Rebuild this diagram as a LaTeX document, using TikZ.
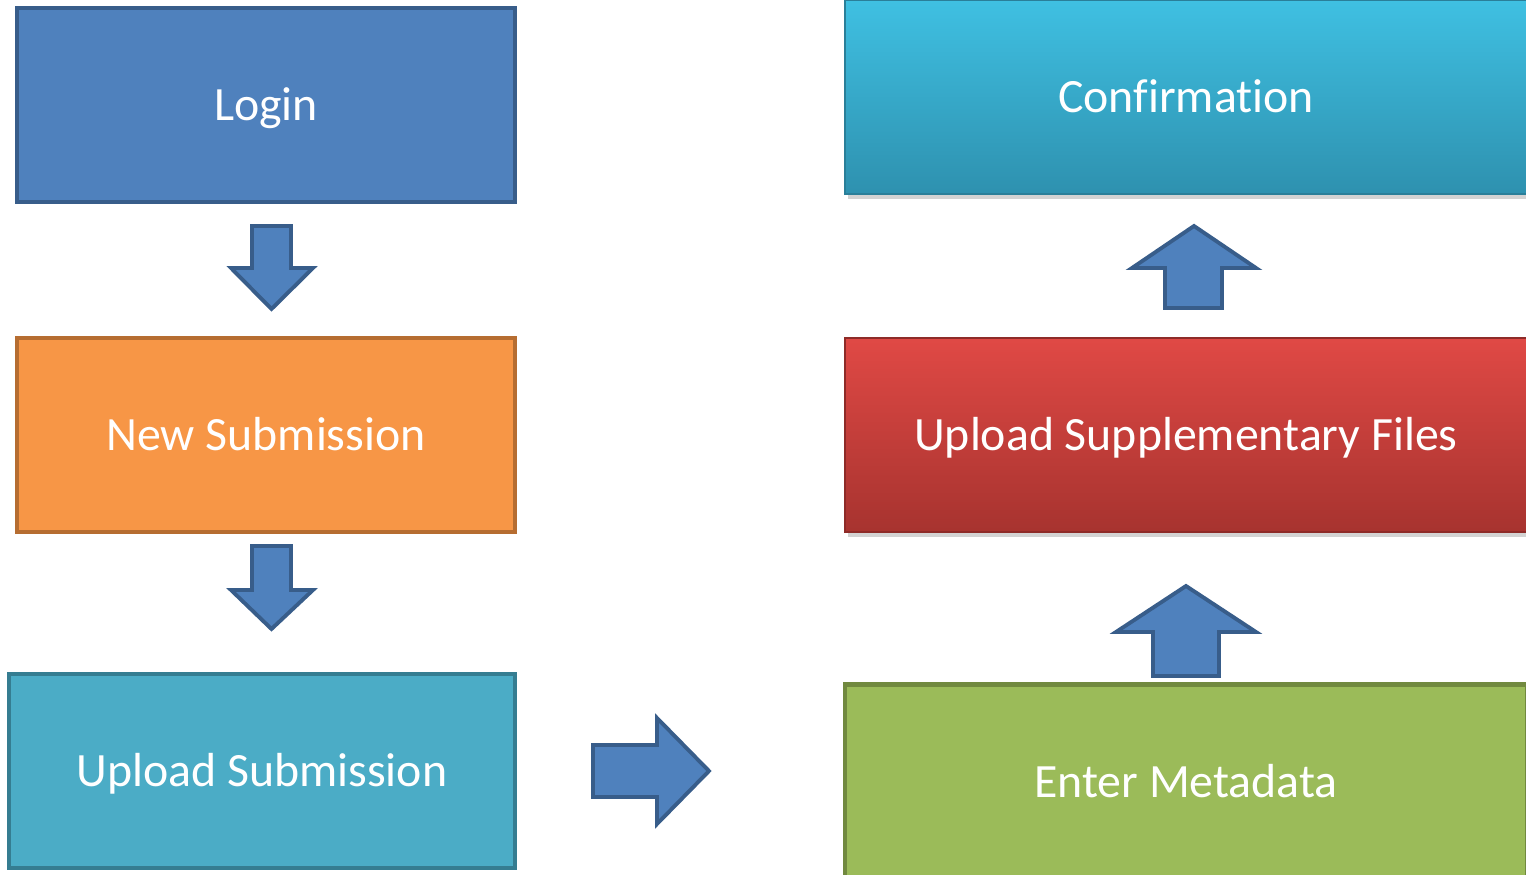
\documentclass[tikz,border=0pt]{standalone}
\usepackage{fontspec}
\setmainfont{Carlito}[Ligatures=NoCommon]
\usetikzlibrary{shadows}
\definecolor{loginblue}{HTML}{4F81BD}
\definecolor{loginedge}{HTML}{385D8A}
\definecolor{neworange}{HTML}{F79646}
\definecolor{newedge}{HTML}{B66D31}
\definecolor{uploadteal}{HTML}{4BACC6}
\definecolor{uploadedge}{HTML}{357D91}
\definecolor{metagreen}{HTML}{9BBB59}
\definecolor{metaedge}{HTML}{71893F}
\definecolor{conftop}{HTML}{3FC0E2}
\definecolor{confbot}{HTML}{2E91AF}
\definecolor{confedge}{HTML}{2A7F99}
\definecolor{supptop}{HTML}{E04945}
\definecolor{suppbot}{HTML}{A7332F}
\definecolor{suppedge}{HTML}{8E2B28}
\tikzset{
  stage/.style={draw,line width=1.4pt,text=white,inner sep=0pt,text height=8.8pt,text depth=0pt,
    font=\fontsize{13.6}{16}\selectfont},
  leftstage/.style={stage,minimum height=1.94cm},
  rightstage/.style={stage,line width=0.8pt,minimum width=6.82cm,minimum height=1.94cm,
    drop shadow={opacity=0.35,shadow xshift=0.03,shadow yshift=-0.05}},
  blockarrow/.style={fill=loginblue,draw=loginedge,line width=1.1pt},
}
\begin{document}
\begin{tikzpicture}
      \useasboundingbox (0,0) rectangle (15.26,8.74);
      % left column
      \node[leftstage,minimum width=4.98cm,fill=loginblue,draw=loginedge] (login) at (2.66,7.69) {Login};
      \node[leftstage,minimum width=4.98cm,fill=neworange,draw=newedge] (newsub) at (2.66,4.39) {New Submission};
      \node[leftstage,minimum width=5.06cm,fill=uploadteal,draw=uploadedge] (upsub) at (2.62,1.03) {Upload Submission};
      % right column
      \node[rightstage,top color=conftop,bottom color=confbot,draw=confedge] (confirm) at (11.86,7.77) {Confirmation};
      \node[rightstage,top color=supptop,bottom color=suppbot,draw=suppedge] (suppl) at (11.86,4.39) {Upload Supplementary Files};
      \node[stage,minimum width=6.82cm,minimum height=1.95cm,fill=metagreen,draw=metaedge] (meta) at (11.86,0.92) {Enter Metadata};
      % block arrows
      \draw[blockarrow] (2.52,6.48) -- (2.91,6.48) -- (2.91,6.06) -- (3.13,6.06) -- (2.715,5.65) -- (2.31,6.06) -- (2.52,6.06) -- cycle;
      \draw[blockarrow] (2.52,3.28) -- (2.91,3.28) -- (2.91,2.84) -- (3.13,2.84) -- (2.715,2.45) -- (2.31,2.84) -- (2.52,2.84) -- cycle;
      \draw[blockarrow] (5.93,1.29) -- (6.57,1.29) -- (6.57,1.56) -- (7.09,1.03) -- (6.57,0.50) -- (6.57,0.77) -- (5.93,0.77) -- cycle;
      \draw[blockarrow] (11.65,5.66) -- (11.65,6.06) -- (11.32,6.06) -- (11.94,6.48) -- (12.56,6.06) -- (12.22,6.06) -- (12.22,5.66) -- cycle;
      \draw[blockarrow] (11.53,1.98) -- (11.53,2.42) -- (11.16,2.42) -- (11.86,2.88) -- (12.56,2.42) -- (12.19,2.42) -- (12.19,1.98) -- cycle;
\end{tikzpicture}
\end{document}
